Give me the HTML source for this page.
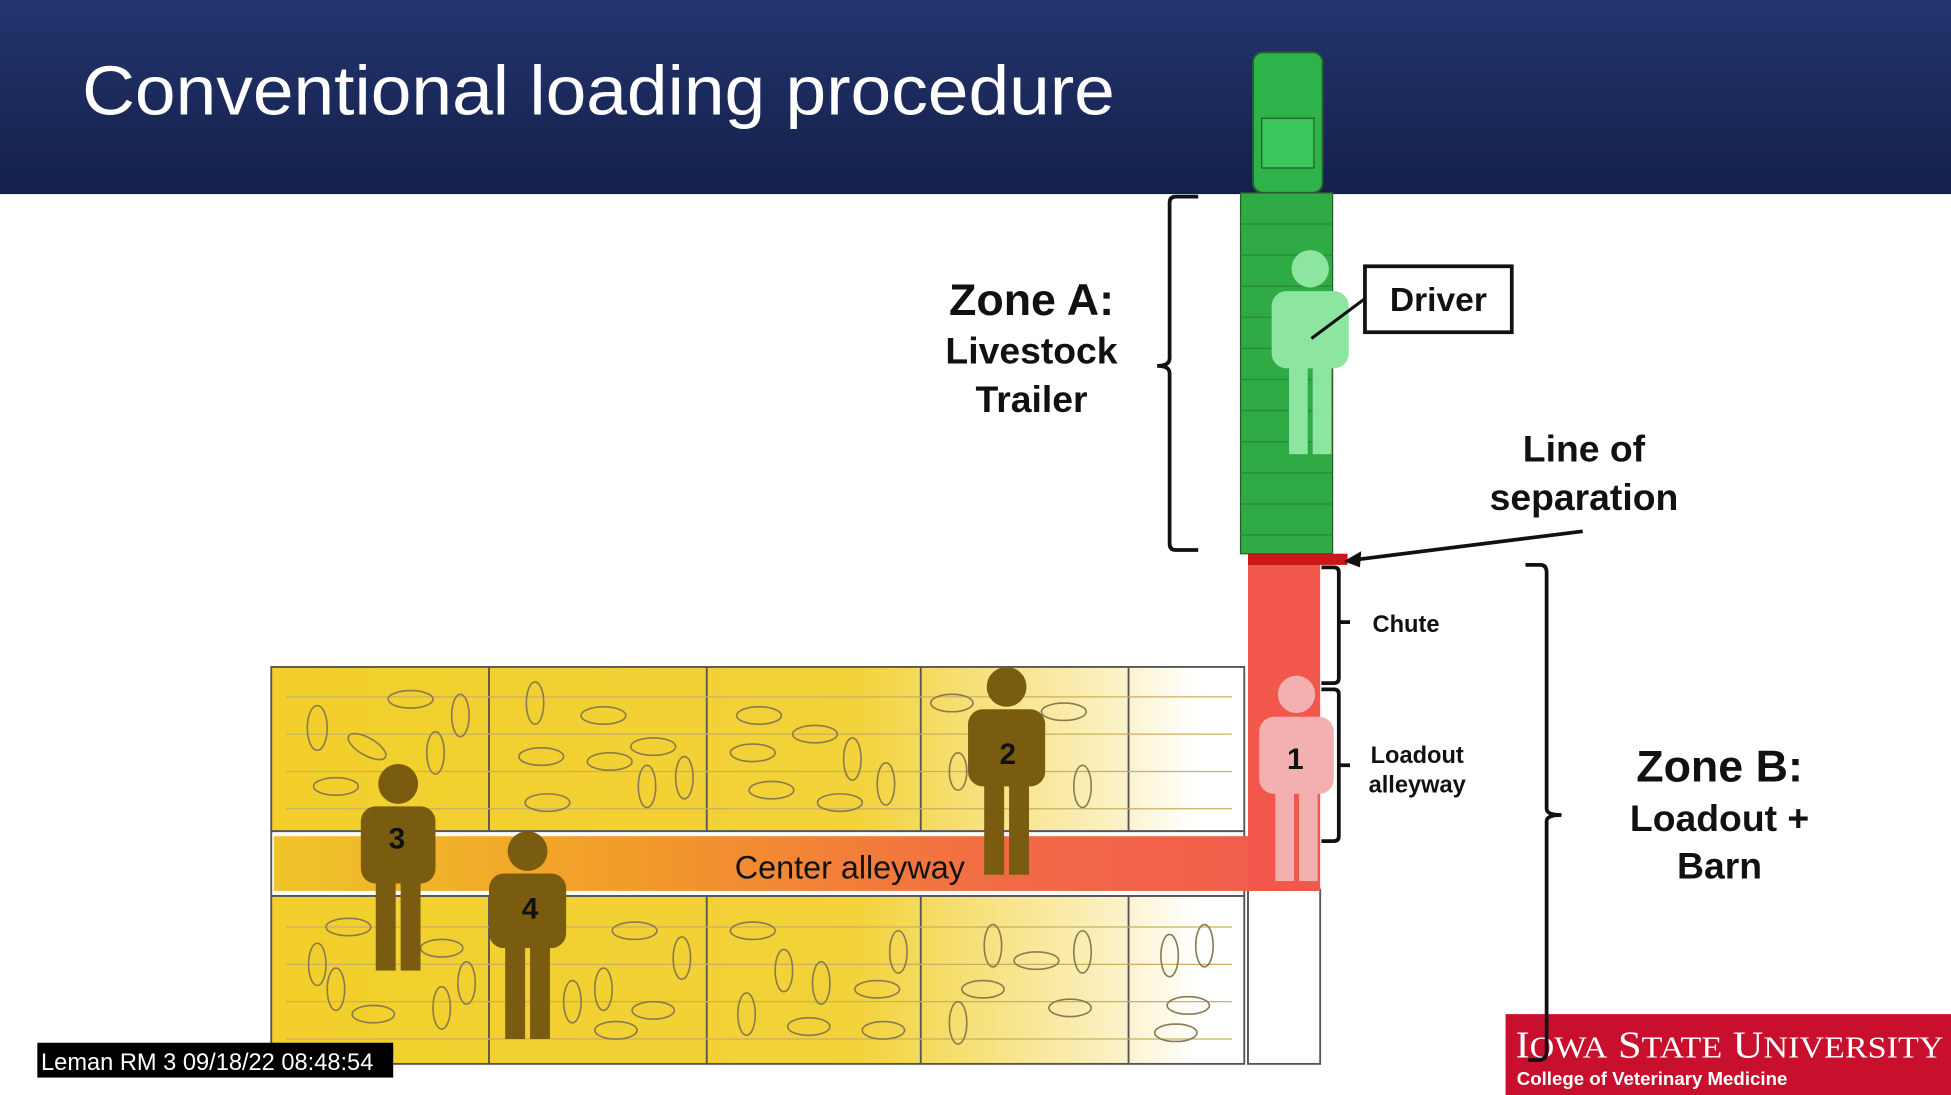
<!DOCTYPE html>
<html><head><meta charset="utf-8"><style>
html,body{margin:0;padding:0;background:#fff;}
svg{display:block;}
text{font-family:"Liberation Sans",Arial,sans-serif;}
</style></head><body>
<svg width="1951" height="1095" viewBox="0 0 1568 880" preserveAspectRatio="none" xmlns="http://www.w3.org/2000/svg">
<defs>
<linearGradient id="hdr" x1="0" y1="0" x2="0" y2="1"><stop offset="0" stop-color="#23356e"/><stop offset="1" stop-color="#14204a"/></linearGradient>
<linearGradient id="pen" x1="0" y1="0" x2="1" y2="0"><stop offset="0" stop-color="#f2cf2a"/><stop offset="0.6" stop-color="#f3d23a"/><stop offset="0.86" stop-color="#fbf0c0"/><stop offset="0.95" stop-color="#ffffff"/></linearGradient>
<linearGradient id="alley" x1="0" y1="0" x2="1" y2="0"><stop offset="0" stop-color="#f0c42a"/><stop offset="0.35" stop-color="#f29a2a"/><stop offset="0.7" stop-color="#f26a45"/><stop offset="1" stop-color="#f25a50"/></linearGradient>
</defs>
<rect x="0" y="0" width="1568" height="880" fill="#fff"/>
<rect x="0" y="0" width="1568" height="156" fill="url(#hdr)"/>
<text x="66" y="92" font-size="56" fill="#fff" textLength="830" lengthAdjust="spacingAndGlyphs">Conventional loading procedure</text>

<!-- truck -->
<rect x="1007" y="42" width="56" height="113" rx="8" fill="#2db34a" stroke="#2a5a30" stroke-width="1.5"/>
<rect x="1014" y="95" width="42" height="40" fill="#3cc55a" stroke="#2a5a30"/>
<rect x="997" y="155" width="74" height="290" fill="#30aa45" stroke="#2a5a30"/>
<g stroke="#27883a" stroke-width="1">
<line x1="997" y1="180" x2="1071" y2="180"/><line x1="997" y1="205" x2="1071" y2="205"/><line x1="997" y1="230" x2="1071" y2="230"/><line x1="997" y1="255" x2="1071" y2="255"/><line x1="997" y1="280" x2="1071" y2="280"/><line x1="997" y1="305" x2="1071" y2="305"/><line x1="997" y1="330" x2="1071" y2="330"/><line x1="997" y1="355" x2="1071" y2="355"/><line x1="997" y1="380" x2="1071" y2="380"/><line x1="997" y1="405" x2="1071" y2="405"/><line x1="997" y1="430" x2="1071" y2="430"/>
</g>

<!-- pens -->
<g stroke="#555" stroke-width="1.5" fill="none">
<rect x="218" y="536" width="782" height="132" fill="url(#pen)"/>
<rect x="218" y="720" width="782" height="135" fill="url(#pen)"/>
<rect x="218" y="668" width="782" height="52" fill="#fff"/>
<line x1="393" y1="536" x2="393" y2="668"/><line x1="568" y1="536" x2="568" y2="668"/><line x1="740" y1="536" x2="740" y2="668"/><line x1="907" y1="536" x2="907" y2="668"/>
<line x1="393" y1="720" x2="393" y2="855"/><line x1="568" y1="720" x2="568" y2="855"/><line x1="740" y1="720" x2="740" y2="855"/><line x1="907" y1="720" x2="907" y2="855"/>
<rect x="1003" y="715" width="58" height="140" fill="#fff"/>
</g>
<g stroke="#c9b060" stroke-width="1">
<line x1="230" y1="560" x2="990" y2="560"/><line x1="230" y1="590" x2="990" y2="590"/><line x1="230" y1="620" x2="990" y2="620"/><line x1="230" y1="650" x2="990" y2="650"/>
<line x1="230" y1="745" x2="990" y2="745"/><line x1="230" y1="775" x2="990" y2="775"/><line x1="230" y1="805" x2="990" y2="805"/><line x1="230" y1="835" x2="990" y2="835"/>
</g>
<!-- pig outlines -->
<g stroke="#8a7a50" stroke-width="1.3" fill="none">
<ellipse cx="255" cy="585" rx="8" ry="18"/><ellipse cx="330" cy="562" rx="18" ry="7"/><ellipse cx="370" cy="575" rx="7" ry="17"/><ellipse cx="295" cy="600" rx="17" ry="7" transform="rotate(30 295 600)"/><ellipse cx="350" cy="605" rx="7" ry="17"/><ellipse cx="270" cy="632" rx="18" ry="7"/>
<ellipse cx="430" cy="565" rx="7" ry="17"/><ellipse cx="485" cy="575" rx="18" ry="7"/><ellipse cx="435" cy="608" rx="18" ry="7"/><ellipse cx="490" cy="612" rx="18" ry="7"/><ellipse cx="525" cy="600" rx="18" ry="7"/><ellipse cx="550" cy="625" rx="7" ry="17"/><ellipse cx="440" cy="645" rx="18" ry="7"/><ellipse cx="520" cy="632" rx="7" ry="17"/>
<ellipse cx="610" cy="575" rx="18" ry="7"/><ellipse cx="605" cy="605" rx="18" ry="7"/><ellipse cx="655" cy="590" rx="18" ry="7"/><ellipse cx="685" cy="610" rx="7" ry="17"/><ellipse cx="620" cy="635" rx="18" ry="7"/><ellipse cx="675" cy="645" rx="18" ry="7"/><ellipse cx="712" cy="630" rx="7" ry="17"/>
<ellipse cx="765" cy="565" rx="17" ry="7"/><ellipse cx="855" cy="572" rx="18" ry="7"/><ellipse cx="870" cy="632" rx="7" ry="17"/><ellipse cx="770" cy="620" rx="7" ry="15"/>
<ellipse cx="255" cy="775" rx="7" ry="17"/><ellipse cx="280" cy="745" rx="18" ry="7"/><ellipse cx="270" cy="795" rx="7" ry="17"/><ellipse cx="300" cy="815" rx="17" ry="7"/><ellipse cx="355" cy="810" rx="7" ry="17"/><ellipse cx="375" cy="790" rx="7" ry="17"/><ellipse cx="355" cy="762" rx="17" ry="7"/>
<ellipse cx="460" cy="805" rx="7" ry="17"/><ellipse cx="485" cy="795" rx="7" ry="17"/><ellipse cx="510" cy="748" rx="18" ry="7"/><ellipse cx="525" cy="812" rx="17" ry="7"/><ellipse cx="548" cy="770" rx="7" ry="17"/><ellipse cx="495" cy="828" rx="17" ry="7"/>
<ellipse cx="605" cy="748" rx="18" ry="7"/><ellipse cx="630" cy="780" rx="7" ry="17"/><ellipse cx="600" cy="815" rx="7" ry="17"/><ellipse cx="650" cy="825" rx="17" ry="7"/><ellipse cx="660" cy="790" rx="7" ry="17"/><ellipse cx="705" cy="795" rx="18" ry="7"/><ellipse cx="722" cy="765" rx="7" ry="17"/><ellipse cx="710" cy="828" rx="17" ry="7"/>
<ellipse cx="798" cy="760" rx="7" ry="17"/><ellipse cx="833" cy="772" rx="18" ry="7"/><ellipse cx="870" cy="765" rx="7" ry="17"/><ellipse cx="790" cy="795" rx="17" ry="7"/><ellipse cx="770" cy="822" rx="7" ry="17"/><ellipse cx="860" cy="810" rx="17" ry="7"/>
<ellipse cx="940" cy="768" rx="7" ry="17"/><ellipse cx="968" cy="760" rx="7" ry="17"/><ellipse cx="955" cy="808" rx="17" ry="7"/><ellipse cx="945" cy="830" rx="17" ry="7"/>
</g>
<rect x="220" y="672" width="840" height="44" fill="url(#alley)"/>
<rect x="1003" y="453" width="58" height="263" fill="#f2574c"/>
<rect x="1003" y="445" width="80" height="9" fill="#c81818"/>
<text x="683" y="706" font-size="26" text-anchor="middle" fill="#111">Center alleyway</text>

<!-- people -->
<g fill="#7a5c10">
<circle cx="320" cy="630" r="16"/><rect x="290" y="648" width="60" height="62" rx="12"/><rect x="302" y="700" width="16" height="80"/><rect x="322" y="700" width="16" height="80"/>
<circle cx="424" cy="684" r="16"/><rect x="393" y="702" width="62" height="60" rx="12"/><rect x="406" y="755" width="16" height="80"/><rect x="426" y="755" width="16" height="80"/>
<circle cx="809" cy="552" r="16"/><rect x="778" y="570" width="62" height="62" rx="12"/><rect x="791" y="625" width="16" height="78"/><rect x="811" y="625" width="16" height="78"/>
</g>
<g fill="#f2b0b0"><circle cx="1042" cy="558" r="15"/><rect x="1012" y="576" width="60" height="62" rx="12"/><rect x="1025" y="630" width="15" height="78"/><rect x="1044" y="630" width="15" height="78"/></g>
<g fill="#8de6a0"><circle cx="1053" cy="216" r="15"/><rect x="1022" y="234" width="62" height="62" rx="12"/><rect x="1036" y="290" width="15" height="75"/><rect x="1055" y="290" width="15" height="75"/></g>
<g font-size="24" font-weight="bold" fill="#111" text-anchor="middle">
<text x="319" y="682">3</text><text x="426" y="738">4</text><text x="810" y="614">2</text><text x="1041" y="618">1</text>
</g>

<!-- driver -->
<rect x="1097" y="214" width="118" height="53" fill="#fff" stroke="#111" stroke-width="3"/>
<text x="1156" y="250" font-size="27" font-weight="bold" text-anchor="middle" fill="#111">Driver</text>
<line x1="1097" y1="240" x2="1054" y2="272" stroke="#111" stroke-width="2.5"/>

<!-- logo -->
<rect x="1210" y="815" width="358" height="65" fill="#c8102e"/>
<text x="1218" y="850" style="font-family:'Liberation Serif',serif" font-size="31" fill="#fff" textLength="344" lengthAdjust="spacingAndGlyphs">I<tspan font-size="25">OWA</tspan> S<tspan font-size="25">TATE</tspan> U<tspan font-size="25">NIVERSITY</tspan></text>
<text x="1219" y="872" font-size="15" font-weight="bold" fill="#fff">College of Veterinary Medicine</text>

<!-- brackets -->
<g stroke="#111" stroke-width="3" fill="none">
<path d="M963 158 H945 Q940 158 940 163 V288 Q940 294 930 294 Q940 294 940 300 V437 Q940 442 945 442 H963"/>
<path d="M1062 456 H1072 Q1076 456 1076 460 V500 H1085 M1076 500 V545 Q1076 549 1072 549 H1062"/>
<path d="M1062 554 H1072 Q1076 554 1076 558 V615 H1085 M1076 615 V672 Q1076 676 1072 676 H1062"/>
<path d="M1226 454 H1238 Q1243 454 1243 460 V650 Q1243 655 1255 655 Q1243 655 1243 660 V845 Q1243 852 1236 852 H1228"/>
<line x1="1272" y1="427" x2="1088" y2="450"/>
</g>
<polygon points="1080,451 1094,443 1093,456" fill="#111"/>

<g font-weight="bold" fill="#111" text-anchor="middle">
<text x="829" y="253" font-size="36">Zone A:</text>
<text x="829" y="292" font-size="30">Livestock</text>
<text x="829" y="331" font-size="30">Trailer</text>
<text x="1273" y="371" font-size="30">Line of</text>
<text x="1273" y="410" font-size="30">separation</text>
<text x="1130" y="508" font-size="19">Chute</text>
<text x="1139" y="613" font-size="19">Loadout</text>
<text x="1139" y="637" font-size="19">alleyway</text>
<text x="1382" y="628" font-size="36">Zone B:</text>
<text x="1382" y="668" font-size="30">Loadout +</text>
<text x="1382" y="706" font-size="30">Barn</text>
</g>

<rect x="30" y="838" width="286" height="28" fill="#000"/>
<text x="33" y="860" font-size="19" fill="#fff">Leman RM 3 09/18/22 08:48:54</text>
</svg>
</body></html>
